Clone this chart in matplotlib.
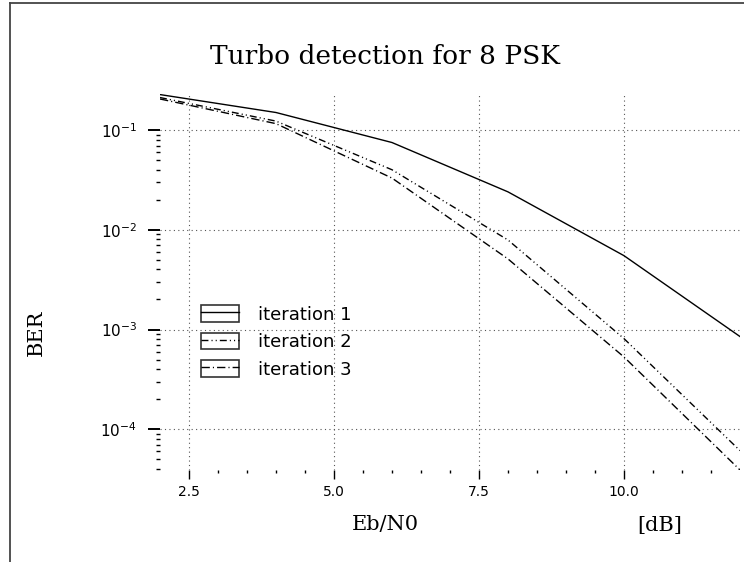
import numpy as np
import matplotlib
matplotlib.use("Agg")
import matplotlib.pyplot as plt
from matplotlib.lines import Line2D
from matplotlib.patches import Rectangle
from matplotlib.legend_handler import HandlerLine2D
from matplotlib.ticker import FixedLocator, NullFormatter

# BER curves of the turbo detector, one per iteration
ebn0 = [2, 4, 6, 8, 10, 12]
ber_iter1 = [0.227, 0.150, 0.075, 0.024, 0.0055, 8.5e-4]
ber_iter2 = [0.212, 0.123, 0.040, 0.0079, 8.1e-4, 6.1e-5]
ber_iter3 = [0.205, 0.116, 0.033, 0.0051, 5.3e-4, 3.9e-5]
labels = ["iteration 1", "iteration 2", "iteration 3"]

x_major = [2.5, 5.0, 7.5, 10.0]
y_major = [1e-1, 1e-2, 1e-3, 1e-4]


class BoxedLine(HandlerLine2D):
    """legend handle: the line sample drawn inside a small box"""
    def create_artists(self, legend, orig_handle, xdescent, ydescent,
                       width, height, fontsize, trans):
        arts = super().create_artists(legend, orig_handle, xdescent, ydescent,
                                      width, height, fontsize, trans)
        box = Rectangle((-xdescent, -ydescent), width, height, fill=False,
                        ec="#333333", lw=1.2, transform=trans)
        return [box] + list(arts)


fig = plt.figure(figsize=(7.44, 5.62), dpi=100)
ax = fig.add_axes([160 / 744, 92 / 562, 580 / 744, 376 / 562])

l1, = ax.plot(ebn0, ber_iter1, color="black", lw=1.0, ls="-")
l2, = ax.plot(ebn0, ber_iter2, color="black", lw=1.0,
              ls=(0, (5, 2.2, 0.8, 2.2, 0.8, 2.2)))
l3, = ax.plot(ebn0, ber_iter3, color="black", lw=1.0,
              ls=(0, (6, 2.2, 0.8, 2.2)))

ax.set_yscale("log")
ax.set_xlim(2, 12)
ax.set_ylim(3.9e-5, 0.23)

for s in ax.spines.values():
    s.set_visible(False)

ax.xaxis.set_major_locator(FixedLocator(x_major))
ax.xaxis.set_minor_locator(FixedLocator(
    [v for v in np.arange(2.5, 12.0, 0.5) if v not in x_major]))
ax.set_xticklabels([f"{v:.1f}" for v in x_major])

ax.yaxis.set_major_locator(FixedLocator(y_major))
ax.yaxis.set_minor_locator(FixedLocator(
    [m * 10.0 ** e for e in range(-5, -1) for m in range(2, 10)
     if 3.9e-5 <= m * 10.0 ** e <= 0.1]))
ax.yaxis.set_minor_formatter(NullFormatter())
ax.set_yticklabels([r"$10^{%d}$" % int(np.log10(v)) for v in y_major])

ax.tick_params(axis="x", which="major", direction="out", length=6.5,
               width=1.0, pad=4, labelsize=10)
ax.tick_params(axis="x", which="minor", direction="out", length=2.2, width=1.0)
ax.tick_params(axis="y", which="major", direction="out", length=8.6,
               width=1.4, pad=8, labelsize=11)
ax.tick_params(axis="y", which="minor", direction="out", length=2.9, width=1.0)

ax.grid(True, which="major", color="#555555", lw=0.8, ls=(0, (1, 3)))

fig.text(385 / 744, 1 - 56 / 562, "Turbo detection for 8 PSK",
         family="DejaVu Serif", fontsize=19, ha="center", va="center")
fig.text(36 / 744, 1 - 333 / 562, "BER", family="DejaVu Serif",
         fontsize=15, rotation=90, ha="center", va="center")
fig.text(385 / 744, 1 - 525 / 562, "Eb/N0", family="DejaVu Serif",
         fontsize=15, ha="center", va="center")
fig.text(660 / 744, 1 - 525 / 562, "[dB]", family="DejaVu Serif",
         fontsize=15, ha="center", va="center")

ax.legend([l1, l2, l3], labels, handler_map={Line2D: BoxedLine()},
          loc="upper left", bbox_to_anchor=(201 / 744, 1 - 305 / 562),
          bbox_transform=fig.transFigure, frameon=False, borderpad=0,
          fontsize=13, handlelength=2.1, handleheight=1.05,
          labelspacing=0.5, handletextpad=1.05, borderaxespad=0)

# outer frame along the left and top edges
fig.add_artist(Line2D([10 / 744, 10 / 744], [0, 1 - 3 / 562],
                      color="#444444", lw=1.3, transform=fig.transFigure))
fig.add_artist(Line2D([10 / 744, 1], [1 - 3 / 562, 1 - 3 / 562],
                      color="#444444", lw=1.3, transform=fig.transFigure))

fig.savefig("out.png", dpi=100)
